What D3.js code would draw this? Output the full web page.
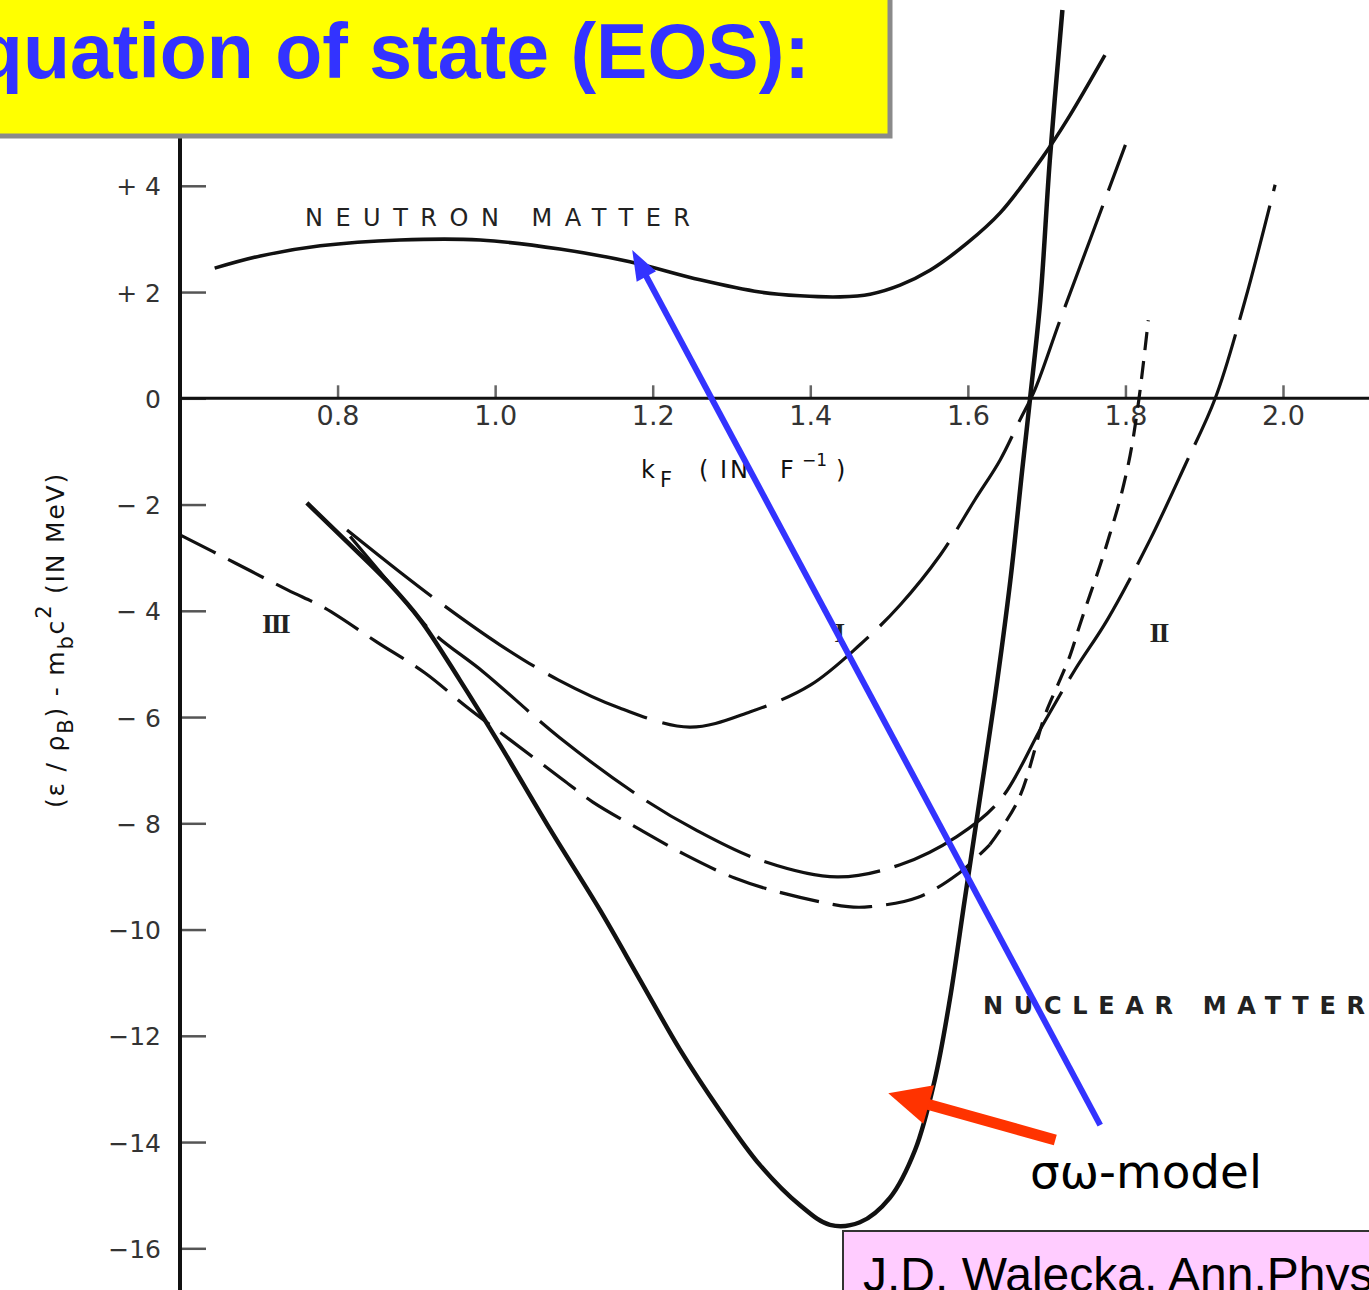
<!DOCTYPE html>
<html>
<head>
<meta charset="utf-8">
<script src="https://cdn.jsdelivr.net/npm/d3@7"></script>
<style>
  html, body { margin: 0; padding: 0; background: #fff; overflow: hidden; }
  svg { display: block; }
</style>
</head>
<body>
<svg id="chart" width="1369" height="1290"></svg>
<script>
// Energy per baryon (MeV) against Fermi momentum kF (fm^-1)

// Neutron matter, sigma-omega model (solid)
const neutronKf = [0.644, 0.702, 0.778, 0.879, 0.981, 1.082, 1.171, 1.260, 1.336, 1.387, 1.438, 1.476, 1.514, 1.552, 1.599, 1.641, 1.695, 1.726, 1.774];
const neutronE  = [2.45, 2.68, 2.87, 2.98, 2.98, 2.81, 2.57, 2.23, 2.00, 1.93, 1.91, 1.96, 2.13, 2.41, 2.92, 3.49, 4.54, 5.24, 6.46];

// Nuclear matter, sigma-omega model (solid)
const sigmaOmegaKf = [0.761, 0.816, 0.867, 0.905, 0.955, 1.006, 1.070, 1.133, 1.184, 1.235, 1.285, 1.336, 1.387, 1.425, 1.463, 1.501, 1.533, 1.558, 1.577, 1.596, 1.615, 1.634, 1.654, 1.669, 1.679, 1.692, 1.704, 1.720];
const sigmaOmegaE  = [-1.97, -2.76, -3.51, -4.17, -5.30, -6.52, -8.12, -9.63, -10.95, -12.27, -13.40, -14.43, -15.19, -15.56, -15.51, -15.05, -14.15, -12.83, -11.33, -9.44, -7.56, -5.67, -3.42, -1.35, 0.00, 1.85, 4.48, 7.31];

// Nuclear matter, curve I (long dashes)
const curveIKf = [0.812, 0.879, 0.934, 1.006, 1.080, 1.158, 1.247, 1.324, 1.400, 1.463, 1.514, 1.565, 1.609, 1.641, 1.666, 1.685, 1.717, 1.755, 1.800];
const curveIE  = [-2.48, -3.27, -3.89, -4.64, -5.30, -5.83, -6.19, -5.90, -5.40, -4.64, -3.89, -2.95, -1.91, -1.16, -0.41, 0.16, 1.47, 2.98, 4.77];

// Nuclear matter, curve II (long dashes)
const curveIIKf = [0.816, 0.873, 0.921, 0.985, 1.082, 1.184, 1.254, 1.336, 1.434, 1.514, 1.586, 1.641, 1.695, 1.736, 1.777, 1.831, 1.876, 1.914, 1.952, 1.990];
const curveIIE  = [-2.60, -3.60, -4.41, -5.15, -6.39, -7.50, -8.12, -8.69, -9.01, -8.78, -8.25, -7.56, -6.15, -5.11, -4.17, -2.67, -1.25, 0.00, 1.85, 4.02];

// Nuclear matter, curve III (medium dashes)
const curveIIIKf = [0.600, 0.670, 0.737, 0.784, 0.850, 0.911, 0.964, 1.019, 1.086, 1.124, 1.184, 1.241, 1.304, 1.364, 1.448, 1.476, 1.537, 1.586, 1.628];
const curveIIIE  = [-2.57, -3.10, -3.61, -3.95, -4.59, -5.17, -5.81, -6.43, -7.18, -7.60, -8.12, -8.59, -9.03, -9.31, -9.57, -9.57, -9.39, -8.97, -8.40];

// High-density branch of curve III (short dashes)
const branchKf = [1.628, 1.664, 1.698, 1.714, 1.730, 1.742, 1.755, 1.768, 1.780, 1.793, 1.806, 1.817, 1.829];
const branchE  = [-8.40, -7.56, -5.96, -5.40, -4.83, -4.27, -3.70, -3.14, -2.57, -1.91, -1.07, -0.03, 1.47];

// Axis ticks
const xTicks = [0.8, 1.0, 1.2, 1.4, 1.6, 1.8, 2.0];
const xTickLabels = ["0.8", "1.0", "1.2", "1.4", "1.6", "1.8", "2.0"];
const yTicks = [4, 2, 0, -2, -4, -6, -8, -10, -12, -14, -16];
const yTickLabels = ["+ 4", "+ 2", "0", "\u2212 2", "\u2212 4", "\u2212 6", "\u2212 8", "\u221210", "\u221212", "\u221214", "\u221216"];

// Curve labels (text, kF, E)
const curveLabels = [["III", 0.721, -4.23], ["I", 1.436, -4.4], ["II", 1.842, -4.4]];

// Arrow annotations (kF, E) of tail and head
const blueArrowTail = [1.768, -13.68];
const blueArrowHead = [1.174, 2.79];
const redArrowTail  = [1.711, -13.96];
const redArrowHead  = [1.499, -13.08];

const svg = d3.select("#chart");
const W = 1369, H = 1290;

const x = d3.scaleLinear().domain([0.6, 2.0]).range([180, 1283]);
const y = d3.scaleLinear().domain([0, -16]).range([398.3, 1248.3]);

const zip = (a, b) => a.map((v, i) => [v, b[i]]);
const line = d3.line().x(d => x(d[0])).y(d => y(d[1])).curve(d3.curveCatmullRom.alpha(0.5));

const ink = "#111";
const axisFont = "'DejaVu Sans', sans-serif";

// ---- axes ----
const gAxes = svg.append("g");

// y-axis tick marks (pointing right, into the plot)
gAxes.append("g")
  .attr("transform", "translate(181,0)")
  .call(d3.axisRight(y).tickValues(yTicks).tickSize(25).tickFormat(""))
  .call(g => g.select(".domain").remove())
  .call(g => g.selectAll(".tick line").attr("stroke", "#555").attr("stroke-width", 2.5));

// y-axis labels
gAxes.append("g")
  .attr("transform", "translate(180,0)")
  .call(d3.axisLeft(y).tickValues(yTicks).tickSize(0).tickPadding(19)
        .tickFormat((d, i) => yTickLabels[i]))
  .call(g => g.select(".domain").remove())
  .call(g => g.selectAll(".tick text")
      .attr("font-family", axisFont).attr("font-size", 25)
      .attr("fill", "#333").attr("dy", "0.36em"));

// x-axis tick marks (pointing up)
gAxes.append("g")
  .attr("transform", `translate(0,${y(0)})`)
  .call(d3.axisTop(x).tickValues(xTicks).tickSize(13).tickFormat(""))
  .call(g => g.select(".domain").remove())
  .call(g => g.selectAll(".tick line").attr("stroke", "#666").attr("stroke-width", 2.5));

// x-axis labels
gAxes.append("g")
  .attr("transform", `translate(0,${y(0)})`)
  .call(d3.axisBottom(x).tickValues(xTicks).tickSize(0).tickPadding(8)
        .tickFormat((d, i) => xTickLabels[i]))
  .call(g => g.select(".domain").remove())
  .call(g => g.selectAll(".tick text")
      .attr("font-family", axisFont).attr("font-size", 27)
      .attr("fill", "#333"));

// axis lines
gAxes.append("line")
  .attr("x1", 180).attr("x2", W).attr("y1", y(0)).attr("y2", y(0))
  .attr("stroke", ink).attr("stroke-width", 3);
gAxes.append("line")
  .attr("x1", 180).attr("x2", 180).attr("y1", 130).attr("y2", H)
  .attr("stroke", ink).attr("stroke-width", 4);

// x-axis title: kF (IN F^-1)
const xt = gAxes.append("text")
  .attr("y", 478)
  .attr("font-family", axisFont).attr("font-size", 24)
  .attr("fill", ink);
xt.append("tspan").attr("x", 641).text("k");
xt.append("tspan").attr("x", 660).attr("dy", 9).attr("font-size", 21).text("F");
xt.append("tspan").attr("x", 699).attr("dy", -9).text("(");
xt.append("tspan").attr("x", 720).attr("letter-spacing", 3).text("IN");
xt.append("tspan").attr("x", 780).text("F");
xt.append("tspan").attr("x", 802).attr("dy", -12).attr("font-size", 17).text("\u22121");
xt.append("tspan").attr("x", 836).attr("dy", 12).text(")");

// y-axis title: (eps/rho_B) - m_b c^2 (IN MeV)
const yt = gAxes.append("text")
  .attr("transform", "translate(64,640) rotate(-90)")
  .attr("text-anchor", "middle")
  .attr("font-family", axisFont).attr("font-size", 25)
  .attr("fill", ink).attr("letter-spacing", 1.8);
yt.append("tspan").text("(\u03b5 / \u03c1");
yt.append("tspan").attr("dy", 9).attr("font-size", 21).text("B");
yt.append("tspan").attr("dy", -9).text(") - m");
yt.append("tspan").attr("dy", 9).attr("font-size", 21).text("b");
yt.append("tspan").attr("dy", -9).text("c");
yt.append("tspan").attr("dy", -13).attr("font-size", 21).text("2");
yt.append("tspan").attr("dy", 13).text(" (IN MeV)");

// ---- curves ----
const gCurves = svg.append("g").attr("fill", "none").attr("stroke", ink)
  .attr("stroke-linecap", "butt").attr("stroke-linejoin", "round");

gCurves.append("path").attr("d", line(zip(neutronKf, neutronE))).attr("stroke-width", 3.6);
gCurves.append("path").attr("d", line(zip(sigmaOmegaKf, sigmaOmegaE))).attr("stroke-width", 4.5);
gCurves.append("path").attr("d", line(zip(curveIKf, curveIE)))
  .attr("stroke-width", 3.2).attr("stroke-dasharray", "108,16");
gCurves.append("path").attr("d", line(zip(curveIIKf, curveIIE)))
  .attr("stroke-width", 3.2).attr("stroke-dasharray", "118,15");
gCurves.append("path").attr("d", line(zip(curveIIIKf, curveIIIE)))
  .attr("stroke-width", 3.2).attr("stroke-dasharray", "40,14");
gCurves.append("path").attr("d", line(zip(branchKf, branchE)))
  .attr("stroke-width", 3.2).attr("stroke-dasharray", "18,11");

// ---- in-plot labels ----
const labelFont = "'DejaVu Sans', sans-serif";
svg.append("text").attr("x", 305).attr("y", 226)
  .attr("font-family", labelFont).attr("font-size", 24).attr("fill", "#222")
  .attr("textLength", 385).attr("lengthAdjust", "spacing")
  .text("NEUTRON  MATTER");
svg.append("text").attr("x", 983).attr("y", 1014)
  .attr("font-family", labelFont).attr("font-size", 24).attr("font-weight", "bold").attr("fill", "#222")
  .attr("textLength", 382).attr("lengthAdjust", "spacing")
  .text("NUCLEAR MATTER");

const romanFont = "'Liberation Serif', serif";
curveLabels.forEach(([t, k, e]) => {
  svg.append("text").attr("x", x(k)).attr("y", y(e))
    .attr("text-anchor", "middle").attr("dy", "0.35em")
    .attr("font-family", romanFont).attr("font-weight", "bold").attr("font-size", 28)
    .attr("letter-spacing", -2).attr("fill", "#222").text(t);
});

// ---- arrows ----
function arrow(tail, head, color, width, headLen, headHalf) {
  const x0 = x(tail[0]), y0 = y(tail[1]), x1 = x(head[0]), y1 = y(head[1]);
  const dx = x1 - x0, dy = y1 - y0, len = Math.hypot(dx, dy);
  const ux = dx / len, uy = dy / len;
  const bx = x1 - ux * headLen, by = y1 - uy * headLen;
  svg.append("line").attr("x1", x0).attr("y1", y0).attr("x2", bx + ux * 2).attr("y2", by + uy * 2)
    .attr("stroke", color).attr("stroke-width", width);
  svg.append("path")
    .attr("d", `M${x1},${y1}L${bx - uy * headHalf},${by + ux * headHalf}L${bx + uy * headHalf},${by - ux * headHalf}Z`)
    .attr("fill", color);
}
arrow(blueArrowTail, blueArrowHead, "#3333ff", 6, 30, 11);
arrow(redArrowTail, redArrowHead, "#ff3300", 11, 42, 20);

svg.append("text").attr("x", 1030).attr("y", 1188)
  .attr("font-family", "'DejaVu Sans', sans-serif").attr("font-size", 46).attr("fill", "#000")
  .attr("textLength", 232).attr("lengthAdjust", "spacingAndGlyphs")
  .text("\u03c3\u03c9-model");

// ---- title banner ----
svg.append("rect").attr("x", -10).attr("y", -10).attr("width", 900).attr("height", 146)
  .attr("fill", "#ffff00").attr("stroke", "#8a8a8a").attr("stroke-width", 5);
svg.append("text").attr("x", 810).attr("y", 78)
  .attr("text-anchor", "end")
  .attr("font-family", "'Liberation Sans', Arial, sans-serif").attr("font-weight", "bold")
  .attr("font-size", 77).attr("fill", "#3333ff")
  .text("Equation of state (EOS):");

// ---- reference box ----
svg.append("rect").attr("x", 843).attr("y", 1231).attr("width", 560).attr("height", 80)
  .attr("fill", "#ffccff").attr("stroke", "#333").attr("stroke-width", 2);
svg.append("text").attr("x", 863).attr("y", 1291)
  .attr("font-family", "'Liberation Sans', Arial, sans-serif").attr("font-size", 48).attr("fill", "#000")
  .text("J.D. Walecka, Ann.Phys. 83 (1974) 491");
</script>
</body>
</html>
